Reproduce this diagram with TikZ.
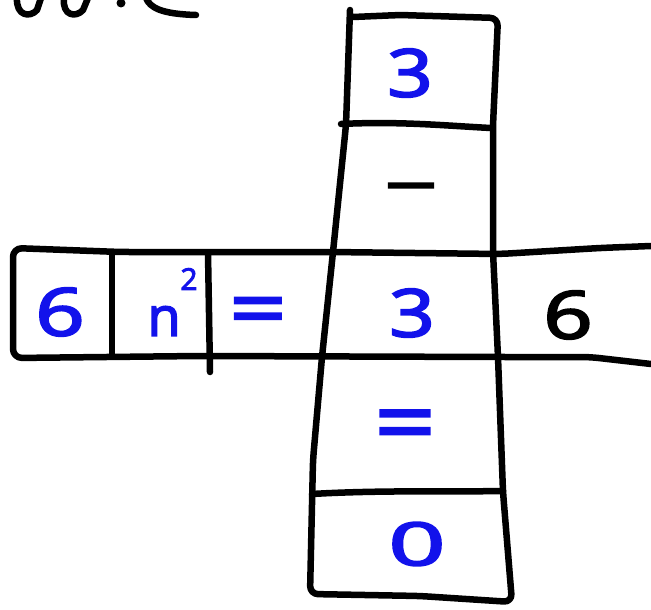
\documentclass[tikz,border=0pt]{standalone}
\usepackage{fontspec}
\setmainfont{Open Sans}[FakeBold=3]
\definecolor{handblue}{RGB}{18,18,235}
\tikzset{
  pen/.style={line width=6.5pt, line join=round, line cap=round, black},
  txt/.style={font=\fontsize{66}{70}\selectfont, inner sep=0pt},
  blu/.style={text=handblue},
}
\begin{document}
\begin{tikzpicture}[x=1pt,y=-1pt]
\useasboundingbox (0,0) rectangle (651,610);
% cut-off letters at the top left
\begin{scope}
\clip (0,0) rectangle (651,610);
\draw[pen] (17,-2) .. controls (16,16) and (30,18) .. (37,10) -- (41,-2);
\draw[pen] (64,-2) .. controls (62,16) and (76,18) .. (83,10) -- (88,-2);
\fill (121,3) circle (4.5pt);
\draw[pen] (146,-2) .. controls (150,8) and (162,14) .. (196,15);
\end{scope}
% horizontal row
\draw[pen, rounded corners=9pt] (651,246) -- (600,248) -- (500,254) -- (330,252) -- (120,252) -- (13,248) -- (13,358) -- (200,356) -- (500,357) -- (590,357) -- (651,364);
\draw[pen] (112,253) -- (112,355);
\draw[pen] (208,253) -- (210,372);
% vertical column
\draw[pen, rounded corners=8pt] (350,10) -- (346,125) -- (333,252) -- (322,357) -- (313,460) -- (310,594) -- (420,596) -- (512,602) -- (503,492) -- (498,357) -- (493,252) -- (493,125) -- (498,18) -- (400,15) -- (353,17);
\draw[pen] (341,124) .. controls (400,121) and (450,126) .. (491,128);
\draw[pen] (312,494) .. controls (380,490) and (450,492) .. (503,491);
% texts
\node[txt, blu, xscale=1.2] (top3) at (410,73) {3};
\node[txt, xscale=1.4] (minus) at (411,196) {−};
\node[txt, blu, xscale=1.3] (six) at (60,312) {6};
\node[txt, blu, font=\fontsize{54}{60}\selectfont] (n) at (164,321) {n};
\node[txt, blu, font=\fontsize{30}{32}\selectfont] (two) at (189,279) {2};
\node[txt, blu, xscale=1.5, yscale=1.2] (eq) at (258,317) {=};
\node[txt, blu, xscale=1.2] (mid3) at (412,313) {3};
\node[txt, xscale=1.3] (six2) at (568,315) {6};
\node[txt, blu, xscale=1.6, yscale=1.35] (eq2) at (405,432) {=};
\node[txt, blu, xscale=1.5, yscale=0.9] (zero) at (417,544) {0};
\end{tikzpicture}
\end{document}
